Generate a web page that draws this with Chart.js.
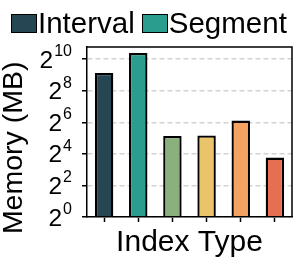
<!DOCTYPE html>
<html><head><meta charset="utf-8">
<script src="https://cdn.jsdelivr.net/npm/chart.js@4/dist/chart.umd.min.js"></script>
<style>
html,body{margin:0;padding:0;background:#fff;}
#wrap{position:relative;width:299px;height:266px;overflow:hidden;}
#legend{position:absolute;left:11px;top:9px;display:flex;align-items:center;font-family:'Liberation Sans',Arial,sans-serif;font-size:29.5px;line-height:28px;color:#000;white-space:nowrap;}
.item{display:flex;align-items:center;margin-right:7px;}
.box{width:24px;height:17px;border:1.5px solid #000;box-sizing:content-box;margin-right:1px;}
</style></head>
<body><div id="wrap"><canvas id="c" width="299" height="266"></canvas><div id="legend"></div></div>
<script>
const categories = ['Interval', 'Segment', 'Type 3', 'Type 4', 'Type 5', 'Type 6'];
const memoryMB = [560, 1350, 35, 36, 69, 13.6];
const barColors = ['#264653', '#2a9d8f', '#8ab17d', '#e9c46a', '#f4a261', '#e76f51'];
const legendCategories = ['Interval', 'Segment'];
const tickExponents = [0, 2, 4, 6, 8, 10];
const yMin = 1, yMax = 1750;
const FONT = "'Liberation Sans', Arial, sans-serif";

// HTML legend built from the data arrays
const leg = document.getElementById('legend');
legendCategories.forEach(name => {
  const i = categories.indexOf(name);
  const it = document.createElement('div'); it.className = 'item';
  const b = document.createElement('div'); b.className = 'box'; b.style.background = barColors[i];
  const t = document.createElement('span'); t.textContent = name;
  it.appendChild(b); it.appendChild(t); leg.appendChild(it);
});

const frame = {
  id: 'frame',
  afterDraw(chart) {
    const {ctx, chartArea: a} = chart;
    ctx.save();
    ctx.strokeStyle = '#000'; ctx.lineWidth = 1.5;
    ctx.beginPath();
    ctx.moveTo(a.left, a.top); ctx.lineTo(a.right, a.top); ctx.lineTo(a.right, a.bottom);
    ctx.stroke();
    ctx.restore();
  }
};

const powLabels = {
  id: 'powLabels',
  afterDraw(chart) {
    const {ctx} = chart;
    const s = chart.scales.y;
    const right = s.right - 16;
    ctx.save();
    ctx.fillStyle = '#000';
    ctx.textBaseline = 'alphabetic';
    ctx.textAlign = 'left';
    tickExponents.forEach(e => {
      const y = s.getPixelForValue(Math.pow(2, e));
      const exp = String(e);
      ctx.font = '16px ' + FONT;
      const we = ctx.measureText(exp).width;
      ctx.font = '24.5px ' + FONT;
      const wb = ctx.measureText('2').width;
      const xe = right - we;
      ctx.fillText('2', xe - wb, y + 8.5);
      ctx.font = '16px ' + FONT;
      ctx.fillText(exp, xe + 1, y - 3);
    });
    ctx.restore();
  }
};

new Chart(document.getElementById('c'), {
  type: 'bar',
  data: {
    labels: categories,
    datasets: [{
      data: memoryMB,
      backgroundColor: barColors,
      borderColor: '#000',
      borderWidth: 2.3,
      categoryPercentage: 1,
      barPercentage: 0.54
    }]
  },
  options: {
    responsive: false,
    animation: false,
    devicePixelRatio: 1,
    layout: {padding: {top: 47, right: 7, left: 0, bottom: 0}},
    plugins: {legend: {display: false}, tooltip: {enabled: false}},
    scales: {
      x: {
        grid: {display: true, drawOnChartArea: false, drawTicks: true, tickLength: 5, tickColor: '#000', tickWidth: 1.5, offset: false},
        border: {display: true, color: '#000', width: 1.5, z: 1},
        ticks: {display: false},
        title: {display: true, text: 'Index Type', color: '#000', font: {family: FONT, size: 30, lineHeight: 1}, padding: {top: 0, bottom: 8}},
        afterFit(s) { s.height = 49; }
      },
      y: {
        type: 'logarithmic',
        min: yMin, max: yMax,
        afterBuildTicks(s) { s.ticks = tickExponents.map(e => ({value: Math.pow(2, e)})); },
        grid: {display: true, color: '#d3d3d3', lineWidth: 1.5, drawTicks: true, tickLength: 5, tickColor: '#000', tickWidth: 1.5},
        border: {display: true, color: '#000', width: 1.5, dash: [5, 3], z: 1},
        ticks: {display: false},
        title: {display: true, text: 'Memory (MB)    ', color: '#000', font: {family: FONT, size: 28.5, lineHeight: 1}, padding: {top: 0, bottom: 0}},
        afterFit(s) { s.width = 87; }
      }
    }
  },
  plugins: [frame, powLabels]
});
</script>
</body></html>
